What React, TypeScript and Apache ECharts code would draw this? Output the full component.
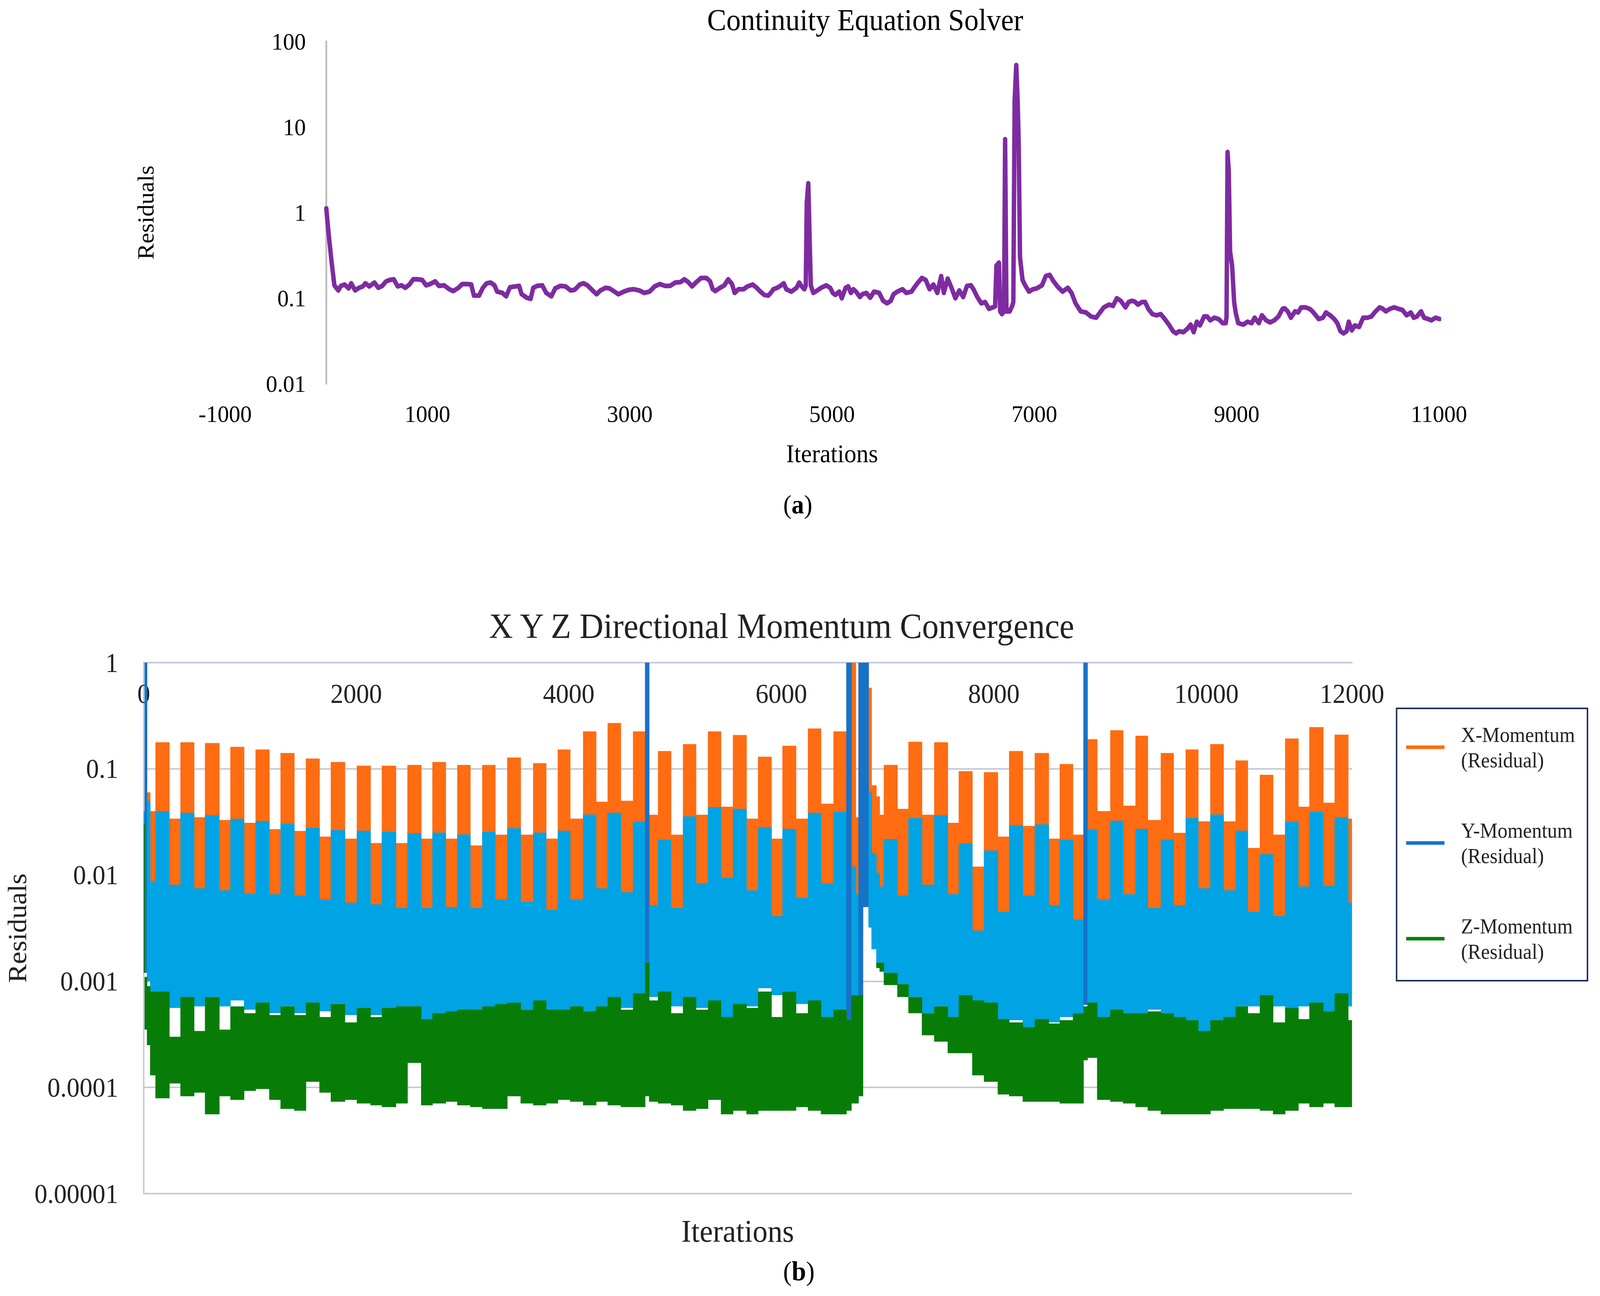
import { useEffect, useRef } from 'react';
import * as echarts from 'echarts';

const SERIF = '"Liberation Serif", "Times New Roman", Times, serif';
const PAGE_W = 4342;
const PAGE_H = 3317;

// (a) Continuity Equation Solver: [iteration, residual]
const continuityResidual: [number, number][] = [
  [0, 1.12], [22, 0.58], [53, 0.26], [80, 0.141], [119, 0.123], [144, 0.139], [182, 0.144], [221, 0.13],
  [246, 0.149], [285, 0.123], [323, 0.132], [361, 0.137], [387, 0.149], [425, 0.137], [476, 0.152], [514, 0.132],
  [553, 0.139], [591, 0.157], [629, 0.163], [667, 0.166], [706, 0.137], [744, 0.141], [782, 0.132], [821, 0.144],
  [859, 0.166], [897, 0.166], [948, 0.163], [987, 0.141], [1025, 0.146], [1076, 0.157], [1114, 0.139], [1165, 0.141],
  [1216, 0.127], [1255, 0.121], [1306, 0.132], [1344, 0.146], [1395, 0.146], [1433, 0.144], [1459, 0.107], [1510, 0.107],
  [1548, 0.132], [1586, 0.149], [1625, 0.152], [1663, 0.141], [1689, 0.119], [1740, 0.115], [1778, 0.105], [1816, 0.134],
  [1867, 0.137], [1906, 0.139], [1931, 0.111], [1982, 0.101], [2020, 0.098], [2046, 0.132], [2084, 0.139], [2135, 0.141],
  [2174, 0.115], [2225, 0.105], [2263, 0.13], [2314, 0.139], [2365, 0.137], [2416, 0.123], [2455, 0.125], [2506, 0.144],
  [2544, 0.149], [2582, 0.141], [2620, 0.127], [2672, 0.111], [2710, 0.123], [2761, 0.132], [2799, 0.13], [2850, 0.119],
  [2888, 0.111], [2940, 0.119], [2991, 0.125], [3042, 0.127], [3093, 0.123], [3144, 0.115], [3195, 0.119], [3246, 0.137],
  [3297, 0.146], [3348, 0.139], [3399, 0.139], [3450, 0.152], [3501, 0.154], [3540, 0.166], [3578, 0.154], [3616, 0.137],
  [3654, 0.152], [3705, 0.172], [3757, 0.172], [3795, 0.157], [3820, 0.127], [3846, 0.121], [3884, 0.13], [3935, 0.141],
  [3973, 0.166], [4011, 0.146], [4037, 0.115], [4075, 0.127], [4126, 0.127], [4164, 0.137], [4215, 0.144], [4254, 0.132],
  [4292, 0.119], [4330, 0.109], [4369, 0.107], [4394, 0.115], [4420, 0.127], [4458, 0.132], [4496, 0.141], [4522, 0.149],
  [4547, 0.127], [4598, 0.119], [4649, 0.132], [4675, 0.152], [4700, 0.137], [4726, 0.127], [4740, 0.14], [4750, 1.3],
  [4765, 2.2], [4778, 0.5], [4790, 0.14], [4815, 0.115], [4854, 0.123], [4892, 0.132], [4943, 0.141], [4981, 0.132],
  [5007, 0.115], [5032, 0.109], [5071, 0.119], [5096, 0.0996], [5134, 0.132], [5160, 0.137], [5186, 0.115], [5211, 0.127],
  [5237, 0.119], [5275, 0.103], [5300, 0.111], [5339, 0.115], [5377, 0.101], [5415, 0.119], [5466, 0.115], [5505, 0.093],
  [5543, 0.087], [5581, 0.093], [5607, 0.111], [5645, 0.119], [5696, 0.127], [5734, 0.115], [5785, 0.119], [5811, 0.132],
  [5849, 0.152], [5888, 0.172], [5926, 0.163], [5964, 0.127], [6002, 0.144], [6041, 0.115], [6079, 0.181], [6105, 0.115],
  [6143, 0.169], [6181, 0.132], [6219, 0.0996], [6258, 0.123], [6296, 0.103], [6334, 0.139], [6373, 0.141], [6398, 0.127],
  [6436, 0.103], [6475, 0.087], [6513, 0.09], [6551, 0.075], [6590, 0.078], [6612, 0.08], [6625, 0.24], [6650, 0.26],
  [6662, 0.07], [6679, 0.065], [6700, 0.07], [6711, 7.2], [6724, 0.07], [6756, 0.07], [6781, 0.081], [6792, 0.09],
  [6805, 20], [6821, 53], [6835, 20], [6845, 6.6], [6858, 0.3], [6883, 0.163], [6909, 0.141], [6947, 0.119],
  [6985, 0.127], [7024, 0.13], [7075, 0.141], [7113, 0.181], [7151, 0.187], [7190, 0.157], [7228, 0.137], [7279, 0.119],
  [7330, 0.132], [7368, 0.115], [7407, 0.087], [7458, 0.07], [7509, 0.068], [7560, 0.061], [7611, 0.059], [7649, 0.068],
  [7687, 0.078], [7739, 0.084], [7777, 0.081], [7815, 0.0996], [7854, 0.093], [7901, 0.078], [7932, 0.09], [7963, 0.093],
  [7993, 0.091], [8024, 0.084], [8065, 0.09], [8095, 0.09], [8126, 0.075], [8167, 0.065], [8208, 0.063], [8249, 0.065],
  [8289, 0.057], [8330, 0.049], [8371, 0.041], [8402, 0.0387], [8432, 0.041], [8473, 0.04], [8514, 0.044], [8545, 0.049],
  [8575, 0.04], [8606, 0.053], [8637, 0.048], [8678, 0.061], [8708, 0.061], [8739, 0.055], [8780, 0.059], [8821, 0.057],
  [8862, 0.051], [8892, 0.051], [8900, 0.06], [8910, 5.1], [8922, 3], [8935, 0.35], [8955, 0.24], [8975, 0.09],
  [8990, 0.068], [9015, 0.051], [9066, 0.049], [9107, 0.053], [9148, 0.051], [9178, 0.059], [9219, 0.051], [9250, 0.063],
  [9291, 0.055], [9331, 0.052], [9372, 0.055], [9413, 0.061], [9454, 0.075], [9474, 0.076], [9505, 0.07], [9536, 0.059],
  [9577, 0.07], [9607, 0.068], [9638, 0.078], [9679, 0.078], [9720, 0.075], [9750, 0.07], [9781, 0.063], [9811, 0.057],
  [9852, 0.059], [9883, 0.068], [9924, 0.063], [9965, 0.057], [9995, 0.051], [10026, 0.041], [10057, 0.0387], [10087, 0.041],
  [10108, 0.053], [10138, 0.042], [10169, 0.048], [10210, 0.046], [10251, 0.059], [10292, 0.059], [10332, 0.061], [10373, 0.07],
  [10414, 0.078], [10445, 0.075], [10475, 0.07], [10516, 0.075], [10557, 0.078], [10598, 0.075], [10639, 0.0727], [10680, 0.063],
  [10721, 0.068], [10751, 0.059], [10782, 0.061], [10823, 0.07], [10853, 0.059], [10894, 0.057], [10925, 0.055], [10966, 0.059],
  [11007, 0.057],
];
const continuityXTicks = ['-1000', '1000', '3000', '5000', '7000', '9000', '11000'];
const continuityYTicks = ['0.01', '0.1', '1', '10', '100'];

// (b) XYZ momentum: the residuals swing fast, so each phase of the outer
// cycle is kept as the [high, low] envelope reached during that phase
const momentumXTicks = ['0', '2000', '4000', '6000', '8000', '10000', '12000'];
const momentumYTicks = ['0.00001', '0.0001', '0.001', '0.01', '0.1', '1'];
const momentumEnd = 11370;

const phaseStart = [
  0, 8, 30, 60, 110, 240, 345, 473, 576, 710,
  815, 943, 1052, 1181, 1287, 1416, 1525, 1653, 1760, 1892,
  2005, 2133, 2240, 2372, 2481, 2610, 2716, 2841, 2950, 3072,
  3185, 3307, 3420, 3546, 3664, 3786, 3896, 4012, 4134, 4256,
  4365, 4488, 4604, 4717, 4755, 4839, 4961, 5074, 5196, 5309,
  5431, 5544, 5671, 5780, 5906, 6010, 6137, 6250, 6372, 6490,
  6611, 6658, 6700, 6725, 6767, 6820, 6848, 6893, 6924, 6964,
  7091, 7195, 7322, 7438, 7565, 7669, 7796, 7906, 8036, 8143,
  8271, 8384, 8515, 8619, 8743, 8842, 8880, 8971, 9095, 9215,
  9332, 9447, 9570, 9690, 9804, 9922, 10036, 10160, 10274, 10388,
  10502, 10626, 10740, 10864, 10968, 11098, 11206, 11333,
];

const xMomentum: [number, number][] = [
  [0.04, 0.003], [0.08, 0.003], [0.06, 0.003], [0.04, 0.003], [0.178, 0.003], [0.034, 0.003], [0.178, 0.003], [0.035, 0.003], [0.175, 0.003], [0.033, 0.003],
  [0.161, 0.003], [0.031, 0.003], [0.152, 0.003], [0.027, 0.003], [0.141, 0.003], [0.026, 0.003], [0.125, 0.003], [0.023, 0.003], [0.116, 0.003], [0.022, 0.003],
  [0.107, 0.003], [0.02, 0.003], [0.107, 0.003], [0.02, 0.003], [0.109, 0.003], [0.022, 0.003], [0.116, 0.003], [0.022, 0.003], [0.109, 0.003], [0.019, 0.003],
  [0.109, 0.003], [0.024, 0.003], [0.128, 0.003], [0.024, 0.003], [0.113, 0.003], [0.022, 0.003], [0.152, 0.003], [0.034, 0.003], [0.225, 0.003], [0.049, 0.003],
  [0.27, 0.003], [0.05, 0.003], [0.225, 0.003], [0.037, 0.003], [0.037, 0.003], [0.147, 0.003], [0.024, 0.003], [0.171, 0.003], [0.037, 0.003], [0.225, 0.003],
  [0.044, 0.003], [0.208, 0.003], [0.034, 0.003], [0.13, 0.003], [0.022, 0.003], [0.165, 0.003], [0.034, 0.003], [0.24, 0.003], [0.047, 0.003], [0.225, 0.003],
  [0.2, 0.003], [1, 0.003], [0.035, 0.003], [1, 0.003], [1, 0.005], [0.58, 0.0035], [0.07, 0.003], [0.055, 0.003], [0.037, 0.003], [0.109, 0.003],
  [0.042, 0.003], [0.18, 0.003], [0.037, 0.003], [0.178, 0.003], [0.031, 0.003], [0.095, 0.003], [0.012, 0.0025], [0.093, 0.003], [0.023, 0.003], [0.147, 0.003],
  [0.029, 0.003], [0.141, 0.003], [0.022, 0.003], [0.111, 0.003], [0.024, 0.003], [0.025, 0.003], [0.19, 0.003], [0.04, 0.003], [0.231, 0.003], [0.045, 0.003],
  [0.205, 0.003], [0.033, 0.003], [0.141, 0.003], [0.025, 0.003], [0.152, 0.003], [0.032, 0.003], [0.171, 0.003], [0.032, 0.003], [0.12, 0.003], [0.018, 0.003],
  [0.088, 0.003], [0.024, 0.003], [0.193, 0.003], [0.044, 0.003], [0.247, 0.003], [0.048, 0.003], [0.21, 0.003], [0.034, 0.003],
];

const yMomentum: [number, number][] = [
  [0.04, 0.0012], [1, 0.0012], [0.05, 0.001], [0.0087, 0.0008], [0.04, 0.00071], [0.0081, 0.00056], [0.0386, 0.00068], [0.0075, 0.00058], [0.0365, 0.00071], [0.0072, 0.00058],
  [0.0338, 0.00066], [0.0067, 0.00054], [0.0323, 0.00063], [0.0066, 0.0005], [0.0305, 0.00058], [0.0064, 0.0005], [0.0278, 0.00063], [0.0059, 0.00052], [0.0265, 0.00061], [0.0055, 0.00048],
  [0.0261, 0.00048], [0.0053, 0.00048], [0.0255, 0.0005], [0.0049, 0.0005], [0.0247, 0.00046], [0.0049, 0.00044], [0.0251, 0.00041], [0.005, 0.00041], [0.0241, 0.00043], [0.0049, 0.00046],
  [0.0255, 0.00048], [0.0059, 0.00054], [0.0276, 0.00056], [0.0056, 0.00054], [0.0251, 0.00056], [0.0047, 0.00052], [0.0261, 0.0005], [0.0059, 0.00048], [0.0371, 0.00046], [0.0075, 0.00044],
  [0.0386, 0.00046], [0.0069, 0.00056], [0.0318, 0.00058], [1, 0.0015], [0.0052, 0.00071], [0.0215, 0.00077], [0.0049, 0.00058], [0.0357, 0.00056], [0.0084, 0.00056], [0.0435, 0.00063],
  [0.0094, 0.00046], [0.042, 0.00058], [0.0072, 0.00058], [0.0282, 0.00086], [0.0041, 0.00074], [0.0272, 0.0008], [0.0061, 0.00061], [0.0386, 0.00063], [0.0083, 0.0004], [0.0395, 0.00041],
  [1, 0.00043], [0.012, 0.0006], [0.0066, 0.0006], [1, 0.0007], [1, 0.005], [0.06, 0.0032], [0.016, 0.002], [0.0105, 0.0015], [0.0078, 0.0015], [0.0218, 0.00114],
  [0.0064, 0.00094], [0.0344, 0.00071], [0.0081, 0.0005], [0.0365, 0.00058], [0.0066, 0.00043], [0.0199, 0.00058], [0.003, 0.00061], [0.017, 0.00063], [0.0045, 0.0004], [0.0294, 0.00043],
  [0.0064, 0.00029], [0.03, 0.00041], [0.0052, 0.00041], [0.0215, 0.00046], [0.0038, 0.0005], [1, 0.0006], [0.0268, 0.00058], [0.0059, 0.00044], [0.0325, 0.00048], [0.0066, 0.00046],
  [0.0272, 0.00046], [0.0049, 0.00054], [0.0215, 0.00043], [0.0052, 0.00041], [0.0344, 0.00037], [0.0075, 0.00031], [0.0371, 0.00038], [0.0072, 0.00038], [0.0261, 0.00058], [0.0045, 0.00058],
  [0.0157, 0.00056], [0.0041, 0.00058], [0.0318, 0.0005], [0.0078, 0.00058], [0.0395, 0.00061], [0.0079, 0.0005], [0.035, 0.00063], [0.0055, 0.00058],
];

const zMomentum: ([number, number] | null)[] = [
  [0.03, 0.0012], [0.0011, 0.00035], [0.0009, 0.00025], [0.0008, 0.00013], [0.0008, 0.000079], [0.0003, 0.000109], [0.00071, 0.0000826], [0.00034, 0.0000893], [0.00071, 0.0000558], [0.00035, 0.0000826],
  [0.00058, 0.0000764], [0.0005, 0.0000929], [0.00063, 0.0000966], [0.00048, 0.0000764], [0.00058, 0.0000628], [0.00048, 0.0000604], [0.00063, 0.000113], [0.00046, 0.0000893], [0.00061, 0.0000734], [0.00041, 0.0000764],
  [0.00056, 0.0000706], [0.00046, 0.0000679], [0.00056, 0.0000653], [0.00058, 0.0000706], [0.00058, 0.00017], [0.00044, 0.0000679], [0.0005, 0.0000706], [0.00052, 0.0000734], [0.00054, 0.0000679], [0.00054, 0.0000653],
  [0.00058, 0.0000628], [0.00061, 0.0000628], [0.00063, 0.0000826], [0.00054, 0.0000706], [0.00066, 0.0000679], [0.00054, 0.0000706], [0.00054, 0.0000764], [0.00058, 0.0000734], [0.00052, 0.0000679], [0.00058, 0.0000734],
  [0.00071, 0.0000679], [0.00054, 0.0000653], [0.00077, 0.0000653], [0.0015, 0.0000826], [0.00066, 0.0000734], [0.0008, 0.0000706], [0.0005, 0.0000679], [0.00071, 0.0000604], [0.00054, 0.0000628], [0.00066, 0.0000764],
  [0.00046, 0.0000558], [0.00061, 0.0000604], [0.00056, 0.0000558], [0.0008, 0.0000604], [0.00046, 0.0000604], [0.0008, 0.0000604], [0.0005, 0.0000653], [0.00066, 0.0000604], [0.00046, 0.0000558], [0.00054, 0.0000558],
  [0.00043, 0.0000604], [0.00074, 0.0000706], [0.00074, 0.0000706], [0.00074, 0.0000826], null, null, null, [0.0015, 0.00133], [0.0015, 0.00123], [0.0012, 0.00092],
  [0.00094, 0.00071], [0.00071, 0.0005], [0.0005, 0.00031], [0.00058, 0.00027], [0.00046, 0.00021], [0.00074, 0.00021], [0.00066, 0.00013], [0.00063, 0.000113], [0.00044, 0.0000859], [0.00041, 0.0000826],
  [0.00037, 0.0000734], [0.00044, 0.0000734], [0.0004, 0.0000734], [0.00043, 0.0000706], [0.0005, 0.0000706], [0.00058, 0.00018], [0.00063, 0.00019], [0.00046, 0.0000764], [0.00054, 0.0000734], [0.0005, 0.0000706],
  [0.0005, 0.0000653], [0.00052, 0.0000604], [0.0005, 0.0000558], [0.00046, 0.0000558], [0.00043, 0.0000558], [0.00034, 0.0000558], [0.00043, 0.0000604], [0.00046, 0.0000628], [0.00058, 0.0000628], [0.0005, 0.0000628],
  [0.00074, 0.0000604], [0.00041, 0.0000558], [0.00056, 0.0000604], [0.00044, 0.0000706], [0.00063, 0.0000653], [0.00052, 0.0000706], [0.00077, 0.0000653], [0.00043, 0.0000653],
];

const X_NAME = 'X-Momentum (Residual)';
const Y_NAME = 'Y-Momentum (Residual)';
const Z_NAME = 'Z-Momentum (Residual)';

const ORANGE = '#FF6C12';
const CYAN = '#00A3E3';
const BLUE = '#1772C8';
const GREEN = '#077D08';
const PURPLE = '#7E2BA2';
const GRID_LINE = '#C6C9DC';
const INK = '#222222';

// one rect per phase, spanning its iterations and its [low, high] envelope
function bandData(rows: ([number, number] | null)[]) {
  const out: number[][] = [];
  phaseStart.forEach((t, i) => {
    const r = rows[i];
    if (!r) return;
    const next = i + 1 < phaseStart.length ? phaseStart[i + 1] : momentumEnd;
    out.push([t, next, r[0], r[1]]);
  });
  return out;
}

function bandRenderer(fill: string, spikeFill: string) {
  return (_params: any, api: any) => {
    const hi = api.value(2);
    const a = api.coord([api.value(0), hi]);
    const b = api.coord([api.value(1), api.value(3)]);
    return {
      type: 'rect',
      shape: { x: a[0], y: a[1], width: b[0] - a[0] + 1, height: b[1] - a[1] },
      style: { fill: hi >= 1 ? spikeFill : fill },
    };
  };
}

function bandSeries(name: string, rows: ([number, number] | null)[], fill: string, spikeFill: string) {
  return {
    name,
    type: 'custom',
    xAxisIndex: 1,
    yAxisIndex: 1,
    clip: true,
    itemStyle: { color: fill },
    encode: { x: [0, 1], y: [2, 3] },
    renderItem: bandRenderer(fill, spikeFill),
    data: bandData(rows),
  };
}

const label = (size: number, color = '#000') => ({ fontFamily: SERIF, fontSize: size, color });

export default function App() {
  const cDom = useRef<HTMLDivElement>(null);

  useEffect(() => {
    if (!cDom.current) return;
    // the layout is drawn at the reference's pixel size, then fitted to the window
    const sx = window.innerWidth / PAGE_W;
    const sy = window.innerHeight / PAGE_H;
    cDom.current.style.transform = `scale(${sx}, ${sy})`;
    const chart = echarts.init(cDom.current, null, { renderer: 'svg' });
    const option: any = {
      animation: false,
      backgroundColor: '#fff',
      textStyle: { fontFamily: SERIF },
      graphic: [
        {
          type: 'text', x: 2348, y: 50,
          style: { text: 'Continuity Equation Solver', fontFamily: SERIF, fontSize: 78, fill: '#000', align: 'center', verticalAlign: 'middle' },
        },
        {
          type: 'text', x: 2165, y: 1291,
          style: { text: '({b|a})', fontFamily: SERIF, fontSize: 68, fill: '#000', align: 'center', verticalAlign: 'middle', rich: { b: { fontFamily: SERIF, fontSize: 68, fontWeight: 'bold' } } },
        },
        {
          type: 'text', x: 2121, y: 1603,
          style: { text: 'X Y Z Directional Momentum Convergence', fontFamily: SERIF, fontSize: 90, fill: INK, align: 'center', verticalAlign: 'middle' },
        },
        {
          type: 'text', x: 2002, y: 3151,
          style: { text: 'Iterations', fontFamily: SERIF, fontSize: 81, fill: INK, align: 'center', verticalAlign: 'middle' },
        },
        {
          type: 'text', x: 2168, y: 3253,
          style: { text: '({b|b})', fontFamily: SERIF, fontSize: 70, fill: '#000', align: 'center', verticalAlign: 'middle', rich: { b: { fontFamily: SERIF, fontSize: 70, fontWeight: 'bold' } } },
        },
      ],
      grid: [
        { left: 611, top: 106, width: 3294, height: 876, outerBoundsMode: 'none' },
        { left: 390, top: 1696, width: 3279, height: 1359, outerBoundsMode: 'none' },
      ],
      xAxis: [
        {
          gridIndex: 0, type: 'value', min: -1000, max: 11000, interval: 2000,
          axisLine: { show: false, onZero: false }, axisTick: { show: false }, splitLine: { show: false },
          axisLabel: { ...label(62), margin: 46, formatter: (v: number) => continuityXTicks[Math.round((v + 1000) / 2000)] },
          name: 'Iterations', nameLocation: 'middle', nameGap: 146, nameTextStyle: label(66),
        },
        {
          gridIndex: 1, type: 'value', position: 'top', min: 0, max: momentumEnd, interval: 2000,
          axisLine: { show: true, onZero: false, lineStyle: { color: GRID_LINE, width: 4 } },
          axisTick: { show: false }, splitLine: { show: false },
          axisLabel: {
            ...label(70, INK), inside: true, margin: 44, showMaxLabel: true,
            formatter: (v: number) => momentumXTicks[Math.min(Math.round(v / 2000), momentumXTicks.length - 1)],
          },
        },
      ],
      yAxis: [
        {
          // the line sits on iteration 0, the labels and name stay at the grid's edge
          gridIndex: 0, type: 'log', logBase: 10, min: 0.01, max: 100,
          axisLine: { show: true, onZero: true, lineStyle: { color: '#BFBFBF', width: 5 } },
          axisTick: { show: false }, splitLine: { show: false },
          axisLabel: { ...label(62), margin: -219, formatter: (v: number) => continuityYTicks[Math.round(Math.log10(v)) + 2] },
          name: 'Residuals', nameLocation: 'middle', nameRotate: 90, nameGap: 184, nameTextStyle: label(62),
        },
        {
          gridIndex: 1, type: 'log', logBase: 10, min: 0.00001, max: 1,
          axisLine: { show: true, onZero: false, lineStyle: { color: GRID_LINE, width: 4 } },
          axisTick: { show: false },
          splitLine: { show: true, lineStyle: { color: GRID_LINE, width: 4 } },
          axisLabel: { ...label(70, INK), margin: 69, formatter: (v: number) => momentumYTicks[Math.round(Math.log10(v)) + 5] },
          name: 'Residuals', nameLocation: 'middle', nameRotate: 90, nameGap: 304, nameTextStyle: label(72, INK),
        },
      ],
      legend: {
        orient: 'vertical', left: 3790, top: 1813, selectedMode: false,
        padding: [2, 34, 10, 26], itemGap: 50, itemWidth: 104, itemHeight: 9, icon: 'rect',
        borderColor: '#1F2D5C', borderWidth: 4, backgroundColor: '#fff',
        formatter: (name: string) => name.replace(' ', '\n'),
        textStyle: { fontFamily: SERIF, fontSize: 54, lineHeight: 65, color: INK, padding: [65, 0, 0, 40] },
        data: [
          { name: X_NAME, itemStyle: { color: ORANGE } },
          { name: Y_NAME, itemStyle: { color: BLUE } },
          { name: Z_NAME, itemStyle: { color: GREEN } },
        ],
      },
      series: [
        {
          name: 'Continuity', type: 'line', xAxisIndex: 0, yAxisIndex: 0,
          symbol: 'none', data: continuityResidual,
          lineStyle: { color: PURPLE, width: 12, join: 'round', cap: 'round' },
          itemStyle: { color: PURPLE },
        },
        bandSeries(X_NAME, xMomentum, ORANGE, ORANGE),
        bandSeries(Y_NAME, yMomentum, CYAN, BLUE),
        bandSeries(Z_NAME, zMomentum, GREEN, GREEN),
      ],
    };
    chart.setOption(option);
    return () => {
      chart.dispose();
    };
  }, []);

  return (
    <div
      ref={cDom}
      style={{ position: 'fixed', left: 0, top: 0, width: PAGE_W, height: PAGE_H, transformOrigin: '0 0' }}
    ></div>
  );
}
